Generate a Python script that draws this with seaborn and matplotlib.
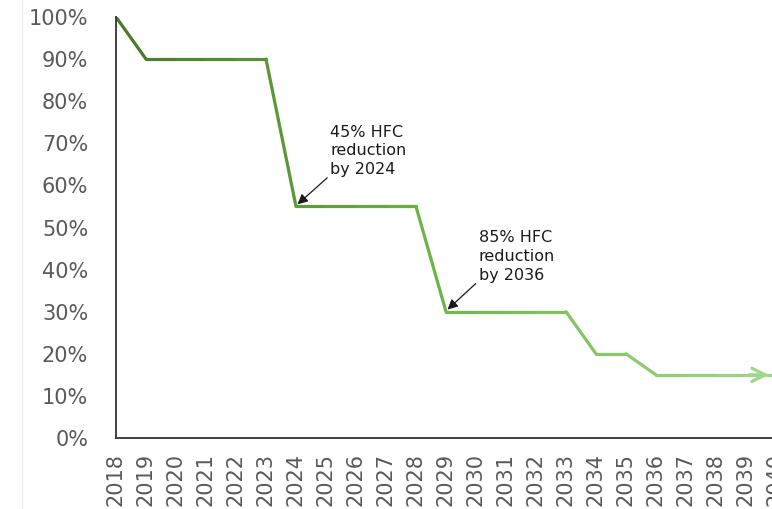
import numpy as np
import pandas as pd
import matplotlib
import matplotlib.pyplot as plt
import seaborn as sns
from matplotlib.colors import LinearSegmentedColormap
from matplotlib.ticker import PercentFormatter

matplotlib.use('Agg')

years = list(range(2018, 2041))
share = [1.00, 0.90, 0.90, 0.90, 0.90, 0.90,
         0.55, 0.55, 0.55, 0.55, 0.55,
         0.30, 0.30, 0.30, 0.30, 0.30,
         0.20, 0.20,
         0.15, 0.15, 0.15, 0.15, 0.15]

notes = ["45% HFC\nreduction\nby 2024", "85% HFC\nreduction\nby 2036"]
note_targets = [2024, 2029]
note_text_pos = [(2025.15, 0.682), (2030.1, 0.431)]

sns.set_theme(style="white")
plt.rcParams['font.family'] = ['DejaVu Sans']

# long-form table: each segment is two points so colour can fade along the line
rows = []
for i in range(len(years) - 1):
    for j in (i, i + 1):
        rows.append({"year": years[j], "share": share[j], "seg": i})
df = pd.DataFrame(rows)

cmap = LinearSegmentedColormap.from_list("fade", ["#4a7a2a", "#6cb844", "#9fd689"])
palette = [cmap(k / (len(years) - 2)) for k in range(len(years) - 1)]

fig = plt.figure(figsize=(7.72, 5.09), dpi=100)
ax = fig.add_axes([116 / 772, 71 / 509, 660 / 772, 421 / 509])

sns.lineplot(data=df, x="year", y="share", hue="seg", palette=palette,
             linewidth=2.3, legend=False, ax=ax, solid_capstyle="round",
             solid_joinstyle="round")

# open arrowhead at the end of the line
ax.annotate("", xy=(years[-1] - 0.15, share[-1]), xytext=(years[-1] - 1.0, share[-1]),
            arrowprops=dict(arrowstyle="->", color=palette[-1], lw=2.3,
                            mutation_scale=24))

# callouts
for text, target, pos in zip(notes, note_targets, note_text_pos):
    ax.annotate(text, xy=(target + 0.05, share[years.index(target)] + 0.005),
                xytext=pos, fontsize=11.5, color="#1a1a1a", va="center",
                linespacing=1.3,
                arrowprops=dict(arrowstyle="-|>", color="#1a1a1a", lw=0.9,
                                mutation_scale=15, shrinkA=0, shrinkB=0,
                                relpos=(0, 0.04)))

ax.set_xlim(2018, 2040)
ax.set_ylim(0, 1.0)
ax.set_yticks(np.arange(0, 1.01, 0.1))
ax.yaxis.set_major_formatter(PercentFormatter(1.0, decimals=0))
ax.set_xticks(years)
ax.set_xticklabels([str(y) for y in years], rotation=90)
ax.tick_params(axis='y', length=0, pad=20, labelsize=15, labelcolor="#595959")
ax.tick_params(axis='x', length=0, pad=11, labelsize=15, labelcolor="#595959")
ax.set_xlabel("")
ax.set_ylabel("")

for side in ["top", "right"]:
    ax.spines[side].set_visible(False)
for side in ["left", "bottom"]:
    ax.spines[side].set_color("#404040")
    ax.spines[side].set_linewidth(1.4)

# faint frame line at the far left of the original picture
fig.add_artist(plt.Line2D([22 / 772, 22 / 772], [0, 1], color="#efefef", lw=1))

fig.savefig("out.png", dpi=100)
